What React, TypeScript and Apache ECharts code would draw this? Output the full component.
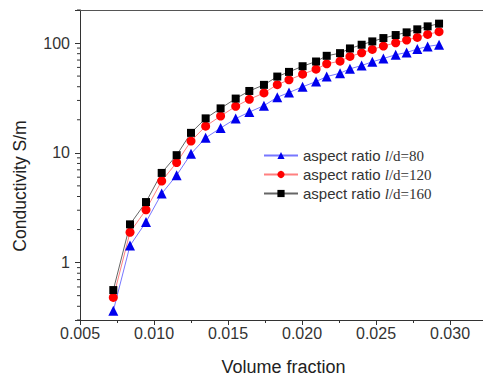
import React, { useEffect, useRef } from "react";
import * as echarts from "echarts";

const volumeFraction = [
  0.00725, 0.00838, 0.00946, 0.01052, 0.01153, 0.0125, 0.01349, 0.0145, 0.01552,
  0.01644, 0.01743, 0.01833, 0.01912, 0.02004, 0.02095, 0.02167, 0.02257, 0.02324,
  0.02403, 0.02475, 0.0255, 0.02633, 0.02707, 0.02779, 0.02849, 0.02926,
];
const ld80 = [
  0.364, 1.43, 2.34, 4.25, 6.25, 9.79, 13.7, 16.8, 20.5, 23.5, 26.9, 32.1, 35.4,
  39.9, 44.6, 49.5, 53.1, 58.2, 62.4, 67.5, 72.3, 78.2, 82.1, 88.1, 93.2, 96.5,
];
const ld120 = [
  0.482, 1.89, 3.03, 5.54, 8.15, 12.8, 17.5, 21.6, 26.5, 30.7, 35.1, 41.8, 46.2,
  52.0, 57.8, 64.7, 68.4, 75.5, 81.5, 87.4, 93.8, 100.6, 106.4, 112.6, 119.9, 126.9,
];
const ld160 = [
  0.562, 2.23, 3.56, 6.56, 9.52, 15.2, 20.6, 25.4, 31.2, 36.6, 41.6, 49.5, 54.6,
  61.5, 67.9, 76.5, 80.9, 89.3, 96.5, 103.5, 111, 118.3, 125.1, 133.3, 141.9, 150.2,
];
const seriesNames = ["l/d=80", "l/d=120", "l/d=160"];
const xTickLabels = ["0.005", "0.010", "0.015", "0.020", "0.025", "0.030"];
const yTickLabels = ["1", "10", "100"];

const SANS = "'Liberation Sans', Arial, sans-serif";
const SERIF = "'Liberation Serif', 'Times New Roman', serif";

export default function App() {
  const ref = useRef<HTMLDivElement>(null);
  useEffect(() => {
    document.body.style.margin = "0";
    if (!ref.current) return;
    const chart = echarts.init(ref.current, undefined, { renderer: "svg" });
    const mk = (vals: number[]) => volumeFraction.map((x, i) => [x, vals[i]]);
    const option: any = {
      animation: false,
      backgroundColor: "#fff",
      grid: {
        left: 80,
        top: 10,
        right: -4,
        bottom: 58,
        containLabel: false,
        outerBoundsMode: "none",
      },
      xAxis: [
        {
          type: "value",
          min: 0.005,
          max: 0.0325,
          interval: 0.005,
          name: "Volume fraction",
          nameLocation: "middle",
          nameGap: 38,
          nameTextStyle: { fontFamily: SANS, fontSize: 18, lineHeight: 18, color: "#222" },
          axisLine: { show: true, lineStyle: { color: "#333", width: 1 } },
          axisTick: { show: true, length: 5, lineStyle: { color: "#333" } },
          minorTick: { show: true, splitNumber: 2, length: 3, lineStyle: { color: "#333" } },
          splitLine: { show: false },
          axisLabel: {
            fontFamily: SANS,
            fontSize: 16,
            color: "#333",
            margin: 5,
            showMaxLabel: false,
            formatter: (v: number) => {
              const s = v.toFixed(3);
              return xTickLabels.includes(s) ? s : "";
            },
          },
        },
        {
          type: "value",
          position: "top",
          min: 0.005,
          max: 0.0325,
          interval: 0.005,
          axisLine: { show: true, lineStyle: { color: "#555", width: 1 } },
          axisTick: { show: false },
          axisLabel: { show: false },
          splitLine: { show: false },
        },
      ],
      yAxis: {
        type: "log",
        logBase: 10,
        min: 0.3,
        max: 200,
        axisLine: { show: true, lineStyle: { color: "#333", width: 1 } },
        axisTick: { show: true, length: 5, lineStyle: { color: "#333" } },
        splitLine: { show: false },
        axisLabel: {
          fontFamily: SANS,
          fontSize: 16,
          color: "#333",
          margin: 10,
          formatter: (v: number) => {
            const l = Math.log10(v);
            if (Math.abs(l - Math.round(l)) > 1e-6) return "";
            const s = String(Math.round(Math.pow(10, Math.round(l))));
            return yTickLabels.includes(s) ? s : "";
          },
        },
      },
      legend: {
        orient: "vertical",
        left: 263,
        top: 148,
        padding: 0,
        itemWidth: 34,
        itemHeight: 9,
        itemGap: 4,
        data: seriesNames,
        formatter: (name: string) => `{a|aspect ratio }{i|l}{b|${name.slice(1)}}`,
        textStyle: {
          lineHeight: 15,
          rich: {
            a: { fontFamily: SANS, fontSize: 15, color: "#333", lineHeight: 15 },
            i: { fontFamily: SERIF, fontStyle: "italic", fontSize: 15, color: "#333", lineHeight: 15 },
            b: { fontFamily: SERIF, fontSize: 15, color: "#333", lineHeight: 15 },
          },
        },
      },
      series: [
        {
          name: seriesNames[0],
          type: "line",
          data: mk(ld80),
          symbol: "triangle",
          symbolSize: 10,
          itemStyle: { color: "#0000ee" },
          lineStyle: { color: "#7777ff", width: 1 },
        },
        {
          name: seriesNames[1],
          type: "line",
          data: mk(ld120),
          symbol: "circle",
          symbolSize: 9,
          itemStyle: { color: "#ff0000" },
          lineStyle: { color: "#ff8080", width: 1 },
        },
        {
          name: seriesNames[2],
          type: "line",
          data: mk(ld160),
          symbol: "rect",
          symbolSize: 8,
          itemStyle: { color: "#000000" },
          lineStyle: { color: "#666666", width: 1 },
        },
      ],
    };
    chart.setOption(option);

    const x0 = chart.convertToPixel({ xAxisIndex: 0 }, 0.005) as number;
    const minorLines: any[] = [];
    for (let k = -1; k <= 2; k++) {
      for (let m = 2; m <= 9; m++) {
        const v = m * Math.pow(10, k);
        if (v < 0.3 || v > 200) continue;
        const y = chart.convertToPixel({ yAxisIndex: 0 }, v) as number;
        minorLines.push({
          type: "line",
          shape: { x1: x0 - 3, y1: y, x2: x0, y2: y },
          style: { stroke: "#333", lineWidth: 1 },
          silent: true,
        });
      }
    }
    chart.setOption({
      graphic: [
        ...minorLines,
        {
          type: "text",
          x: 20,
          y: 186,
          rotation: Math.PI / 2,
          style: {
            text: "Conductivity S/m",
            fontFamily: SANS,
            fontSize: 17.5,
            fill: "#222",
            align: "center",
            verticalAlign: "middle",
          },
        },
      ],
    });
    return () => chart.dispose();
  }, []);
  return <div ref={ref} style={{ width: 483, height: 378 }} />;
}
